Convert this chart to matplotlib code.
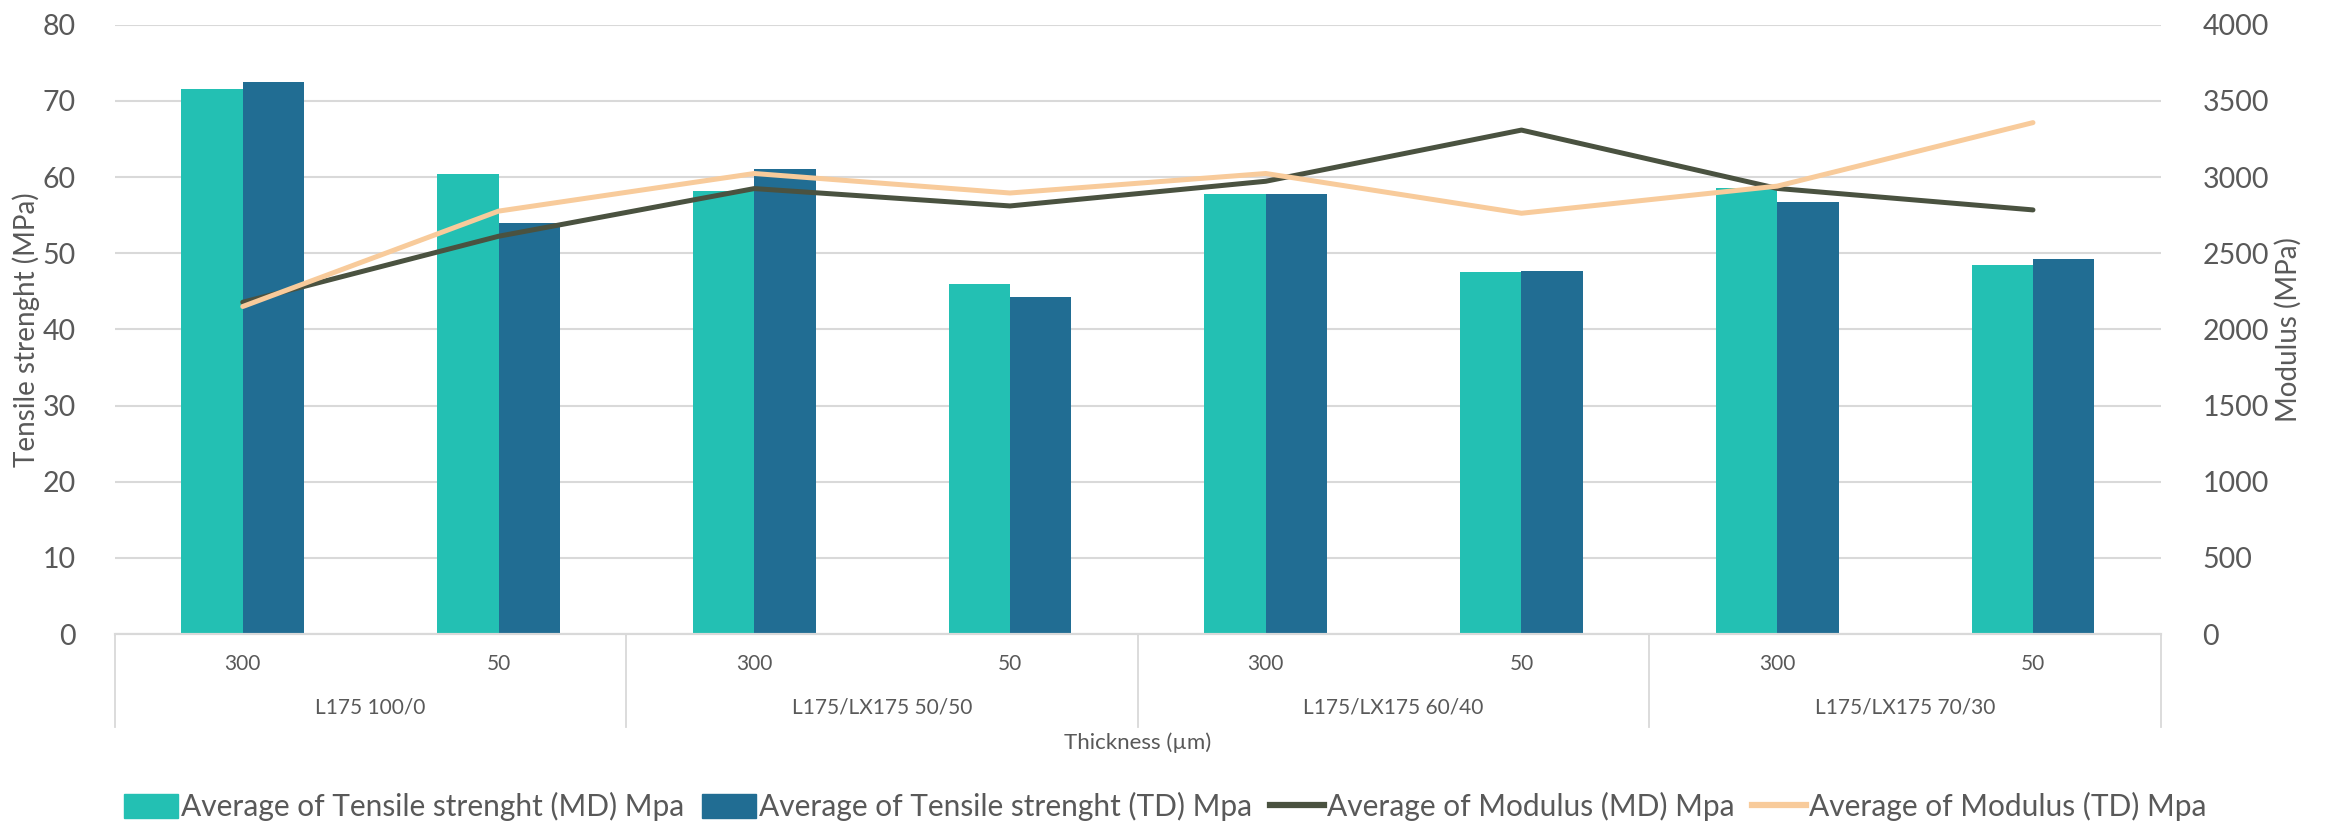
import matplotlib
import matplotlib.pyplot as plt
import numpy as np
from matplotlib.patches import Patch
from matplotlib.lines import Line2D
from matplotlib.transforms import blended_transform_factory

matplotlib.use("Agg")

plt.rcParams["font.family"] = ["Lato", "DejaVu Sans"]

thickness = ["300", "50", "300", "50", "300", "50", "300", "50"]
blends = ["L175 100/0", "L175/LX175 50/50", "L175/LX175 60/40", "L175/LX175 70/30"]

tensile_md = [71.6, 60.4, 58.1, 45.9, 57.8, 47.5, 58.6, 48.4]
tensile_td = [72.5, 54.0, 61.0, 44.2, 57.8, 47.7, 56.7, 49.2]
modulus_md = [2178, 2611, 2924, 2810, 2972, 3308, 2925, 2784]
modulus_td = [2150, 2776, 3023, 2895, 3023, 2762, 2940, 3357]

c_md = "#23C0B3"
c_td = "#216D93"
c_mod_md = "#4A5240"
c_mod_td = "#F8CB9B"
grid_c = "#D9D9D9"
text_c = "#595959"

fig = plt.figure(figsize=(23.31, 8.36), dpi=100)
ax = fig.add_axes([0.0493, 0.2416, 0.8777, 0.7289])
ax2 = ax.twinx()

x = np.arange(len(thickness))
w = 0.24
ax.bar(x - w / 2, tensile_md, w, color=c_md, zorder=2)
ax.bar(x + w / 2, tensile_td, w, color=c_td, zorder=2)

ax2.plot(x, modulus_md, color=c_mod_md, lw=3.6, solid_capstyle="round")
ax2.plot(x, modulus_td, color=c_mod_td, lw=3.6, solid_capstyle="round")

ax.set_xlim(-0.5, len(thickness) - 0.5)
ax.set_ylim(0, 80)
ax2.set_ylim(0, 4000)
ax.set_yticks(np.arange(0, 81, 10))
ax2.set_yticks(np.arange(0, 4001, 500))
ax.grid(axis="y", color=grid_c, lw=1.5, zorder=0)
ax.set_axisbelow(True)

for a in (ax, ax2):
    for s in ("top", "left", "right"):
        a.spines[s].set_visible(False)
    a.spines["bottom"].set_color(grid_c)
    a.spines["bottom"].set_linewidth(1.5)
    a.tick_params(axis="y", length=0, labelsize=20.5, labelcolor=text_c)

ax.tick_params(axis="y", pad=28)
ax2.tick_params(axis="y", pad=30)

# two-level category axis drawn by hand
ax.set_xticks(x)
ax.set_xticklabels([])
ax.tick_params(axis="x", length=0)
trans = blended_transform_factory(ax.transData, ax.transAxes)
for xi, lab in zip(x, thickness):
    ax.text(xi, -0.049, lab, transform=trans, ha="center", va="center",
            fontsize=15, color=text_c)
for i, lab in enumerate(blends):
    ax.text(2 * i + 0.5, -0.121, lab, transform=trans, ha="center", va="center",
            fontsize=15, color=text_c)
for b in np.arange(-0.5, len(thickness), 2):
    ax.plot([b, b], [0, -0.153], transform=trans, color=grid_c, lw=1.3,
            clip_on=False)
ax.text(0.5, -0.179, "Thickness (µm)", transform=ax.transAxes, ha="center",
        va="center", fontsize=16, color=text_c)

ax.set_ylabel("Tensile strenght (MPa)", fontsize=20, color=text_c, labelpad=2)
ax2.set_ylabel("Modulus (MPa)", fontsize=20, color=text_c, labelpad=4)

handles = [
    Patch(color=c_md, label="Average of Tensile strenght (MD) Mpa"),
    Patch(color=c_td, label="Average of Tensile strenght (TD) Mpa"),
    Line2D([], [], color=c_mod_md, lw=4.5, label="Average of Modulus (MD) Mpa"),
    Line2D([], [], color=c_mod_td, lw=4.5, label="Average of Modulus (TD) Mpa"),
]
fig.legend(handles=handles, loc="center", bbox_to_anchor=(0.5, 0.035), ncol=4,
           frameon=False, fontsize=21.5, labelcolor=text_c, handlelength=1.8,
           handleheight=0.9, handletextpad=0.1, columnspacing=0.6)

fig.savefig("out.png", dpi=100)
